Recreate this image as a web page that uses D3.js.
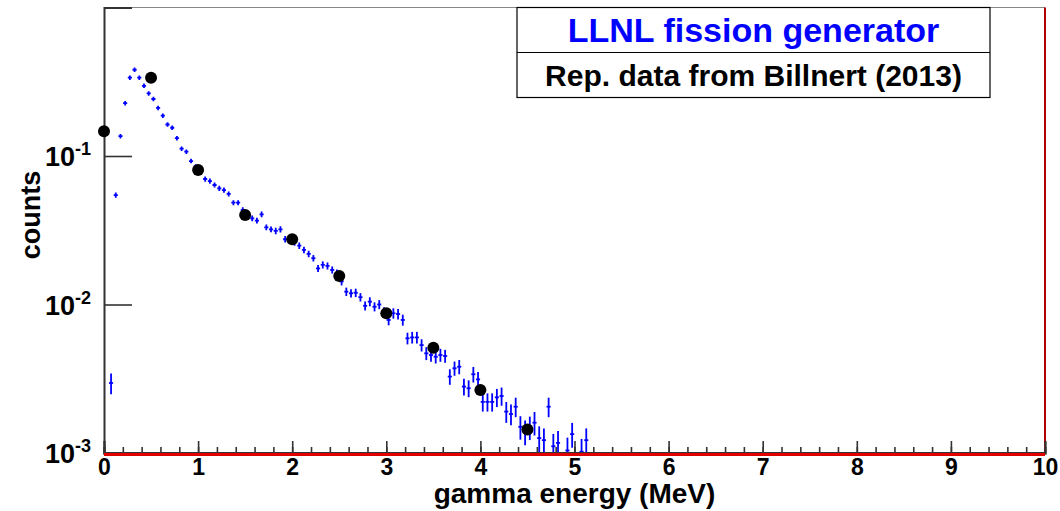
<!DOCTYPE html>
<html>
<head>
<meta charset="utf-8">
<script src="https://cdn.jsdelivr.net/npm/d3@7"></script>
<style>
  body { margin: 0; background: #fff; }
  text { font-family: "Liberation Sans", Arial, sans-serif; font-weight: bold; }
</style>
</head>
<body>
<div class="canvas"></div>
<script>
// LLNL generator histogram: bin centres (MeV), counts, relative errors
const energy = [0.075, 0.125, 0.175, 0.225, 0.275, 0.325, 0.375, 0.425, 0.475, 0.525,
  0.575, 0.625, 0.675, 0.725, 0.775, 0.825, 0.875, 0.925, 0.975, 1.025,
  1.075, 1.125, 1.175, 1.225, 1.275, 1.325, 1.375, 1.425, 1.475, 1.525,
  1.575, 1.625, 1.675, 1.725, 1.775, 1.825, 1.875, 1.925, 1.975, 2.025,
  2.075, 2.125, 2.175, 2.225, 2.275, 2.325, 2.375, 2.425, 2.475, 2.525,
  2.575, 2.625, 2.675, 2.725, 2.775, 2.825, 2.875, 2.925, 2.975, 3.025,
  3.075, 3.125, 3.175, 3.225, 3.275, 3.325, 3.375, 3.425, 3.475, 3.525,
  3.575, 3.625, 3.675, 3.725, 3.775, 3.825, 3.875, 3.925, 3.975, 4.025,
  4.075, 4.125, 4.175, 4.225, 4.275, 4.325, 4.375, 4.425, 4.475, 4.525,
  4.575, 4.625, 4.675, 4.725, 4.775, 4.825, 4.925, 4.975, 5.075, 5.125]
const counts = [0.00296, 0.0546, 0.136, 0.227, 0.337, 0.381, 0.337, 0.297, 0.264, 0.242,
  0.211, 0.187, 0.163, 0.155, 0.132, 0.112, 0.107, 0.0925, 0.085, 0.078,
  0.070, 0.0678, 0.0638, 0.0606, 0.059, 0.0555, 0.0485, 0.0485, 0.0433, 0.040,
  0.038, 0.0367, 0.0405, 0.0331, 0.0321, 0.0313, 0.0321, 0.0275, 0.0278, 0.0262,
  0.0249, 0.0233, 0.0219, 0.0205, 0.0175, 0.0185, 0.0182, 0.0171, 0.0163, 0.0143,
  0.0122, 0.0119, 0.0120, 0.0112, 0.0098, 0.01045, 0.00966, 0.0100, 0.0089, 0.00787,
  0.00873, 0.00863, 0.00787, 0.00592, 0.0060, 0.0060, 0.00533, 0.00469, 0.00457, 0.00445,
  0.00457, 0.0045, 0.00327, 0.00372, 0.00381, 0.0028, 0.00273, 0.00339, 0.00313, 0.00221,
  0.00221, 0.00221, 0.00237, 0.00242, 0.0019, 0.00183, 0.00205, 0.0015, 0.00139, 0.00149,
  0.0016, 0.00126, 0.00122, 0.00205, 0.00111, 0.00117, 0.00104, 0.00134, 0.00102, 0.00122]
const relErr = [0.16, 0.04, 0.035, 0.035, 0.035, 0.035, 0.035, 0.035, 0.035, 0.035,
  0.035, 0.035, 0.035, 0.035, 0.035, 0.035, 0.035, 0.035, 0.035, 0.035,
  0.04, 0.04, 0.04, 0.04, 0.04, 0.04, 0.04, 0.04, 0.045, 0.045,
  0.045, 0.045, 0.045, 0.045, 0.045, 0.05, 0.05, 0.05, 0.05, 0.05,
  0.05, 0.05, 0.05, 0.05, 0.055, 0.055, 0.055, 0.055, 0.055, 0.06,
  0.065, 0.065, 0.065, 0.065, 0.07, 0.07, 0.07, 0.07, 0.075, 0.08,
  0.08, 0.08, 0.085, 0.09, 0.09, 0.09, 0.095, 0.1, 0.1, 0.1,
  0.1, 0.1, 0.12, 0.11, 0.11, 0.13, 0.13, 0.12, 0.12, 0.14,
  0.14, 0.14, 0.14, 0.14, 0.16, 0.16, 0.15, 0.18, 0.19, 0.18,
  0.18, 0.2, 0.2, 0.15, 0.21, 0.2, 0.22, 0.19, 0.22, 0.2]
const binWidth = 0.05

// Billnert (2013) reference points
const refEnergy = [0.0, 0.5, 1.0, 1.5, 2.0, 2.5, 3.0, 3.5, 4.0, 4.5]
const refCounts = [0.147, 0.337, 0.0805, 0.0401, 0.0275, 0.01555, 0.00873, 0.00512, 0.00266, 0.00144]

const yMajor = [1e-3, 1e-2, 1e-1]
const yExp = ["-3", "-2", "-1"]

const width = 1060, height = 511
const margin = { top: 7.5, right: 15, bottom: 58, left: 104 }

const svg = d3.select(".canvas")
    .append("svg")
    .attr("width", width)
    .attr("height", height)

const x = d3.scaleLinear().domain([0, 10]).range([margin.left, width - margin.right])
const y = d3.scaleLog().domain([1e-3, 1]).range([height - margin.bottom, margin.top])

svg.append("clipPath").attr("id", "plot")
  .append("rect")
    .attr("x", x(0)).attr("y", y(1))
    .attr("width", x(10) - x(0)).attr("height", y(1e-3) - y(1))

// frame: grey top, red right and bottom
svg.append("line").attr("x1", x(0)).attr("x2", x(10)).attr("y1", y(1)).attr("y2", y(1))
    .attr("stroke", "#888").attr("stroke-width", 1)
svg.append("line").attr("x1", x(10)).attr("x2", x(10)).attr("y1", y(1)).attr("y2", y(1e-3))
    .attr("stroke", "#b00000").attr("stroke-width", 2)

// histogram error crosses
const hist = svg.append("g").attr("clip-path", "url(#plot)")
    .attr("stroke", "#0000ff").attr("stroke-width", 1.8)
const bins = energy.map((e, i) => ({ e, v: counts[i], r: relErr[i] }))
hist.selectAll(".vbar").data(bins).enter().append("line")
    .attr("x1", d => x(d.e)).attr("x2", d => x(d.e))
    .attr("y1", d => y(Math.max(d.v * (1 - d.r), 1e-3)))
    .attr("y2", d => y(Math.min(d.v * (1 + d.r), 1)))
hist.selectAll(".hbar").data(bins).enter().append("line")
    .attr("x1", d => x(d.e - binWidth / 2) + 0.3).attr("x2", d => x(d.e + binWidth / 2) - 0.3)
    .attr("y1", d => y(d.v)).attr("y2", d => y(d.v))

// axes
const xMajorAxis = d3.axisBottom(x).tickValues(d3.range(0, 11)).tickSize(-12).tickPadding(6)
const xMinorAxis = d3.axisBottom(x).tickValues(d3.range(0, 50).map(i => i * 0.2)).tickSize(-6).tickFormat("")
const yMinorVals = []
for (let p = -3; p < 0; p++) for (let k = 2; k <= 9; k++) yMinorVals.push(k * Math.pow(10, p))
const yMajorAxis = d3.axisLeft(y).tickValues(yMajor).tickSize(-28).tickFormat("")
const yMinorAxis = d3.axisLeft(y).tickValues(yMinorVals).tickSize(-14).tickFormat("")

function styleAxis(g) {
  g.select(".domain").attr("stroke", "#333").attr("stroke-width", 2)
  g.selectAll(".tick line").attr("stroke", "#333").attr("stroke-width", 1.6)
}

const xAxisGroup = svg.append("g").attr("transform", `translate(0, ${y(1e-3)})`)
xAxisGroup.call(xMinorAxis).call(styleAxis)
const xAxisGroup2 = svg.append("g").attr("transform", `translate(0, ${y(1e-3)})`)
xAxisGroup2.call(xMajorAxis).call(styleAxis)
xAxisGroup2.selectAll("text")
    .attr("font-size", 23).attr("font-family", "Liberation Sans, Arial, sans-serif")
    .attr("font-weight", "bold").attr("fill", "#000")

const yAxisGroup = svg.append("g").attr("transform", `translate(${x(0)}, 0)`)
yAxisGroup.call(yMinorAxis).call(styleAxis)
yAxisGroup.call(yMajorAxis).call(styleAxis)

// red line along the bottom
svg.append("line").attr("x1", x(0)).attr("x2", x(10)).attr("y1", y(1e-3) + 1.5).attr("y2", y(1e-3) + 1.5)
    .attr("stroke", "#e00000").attr("stroke-width", 3)
svg.append("line").attr("x1", x(0)).attr("x2", x(10)).attr("y1", y(1e-3) - 0.5).attr("y2", y(1e-3) - 0.5)
    .attr("stroke", "#333").attr("stroke-width", 1)

// y tick labels 10^n
yMajor.forEach((v, i) => {
  const t = svg.append("text").attr("x", 45).attr("y", y(v) + 10).attr("font-size", 27)
  t.append("tspan").text("10")
  t.append("tspan").attr("dy", -11).attr("font-size", 18).text(yExp[i])
})

// reference points
svg.selectAll(".ref").data(refEnergy).enter().append("circle")
    .attr("cx", d => x(d)).attr("cy", (d, i) => y(refCounts[i]))
    .attr("r", 6).attr("fill", "#000")

// axis titles
svg.append("text").attr("x", (x(0) + x(10)) / 2).attr("y", 503)
    .attr("text-anchor", "middle").attr("font-size", 28).text("gamma energy (MeV)")
svg.append("text").attr("transform", `translate(40, 215) rotate(-90)`)
    .attr("text-anchor", "middle").attr("font-size", 27).text("counts")

// legend box
const legend = svg.append("g")
legend.append("rect").attr("x", 517).attr("y", 7.5).attr("width", 473).attr("height", 90)
    .attr("fill", "#fff").attr("stroke", "#000").attr("stroke-width", 1.2)
legend.append("line").attr("x1", 517).attr("x2", 990).attr("y1", 52.5).attr("y2", 52.5)
    .attr("stroke", "#000").attr("stroke-width", 1.2)
legend.append("text").attr("x", 753.5).attr("y", 42).attr("text-anchor", "middle")
    .attr("font-size", 34).attr("fill", "#0000ff").text("LLNL fission generator")
legend.append("text").attr("x", 753.5).attr("y", 86).attr("text-anchor", "middle")
    .attr("font-size", 30).attr("fill", "#000").text("Rep. data from Billnert (2013)")
</script>
</body>
</html>
